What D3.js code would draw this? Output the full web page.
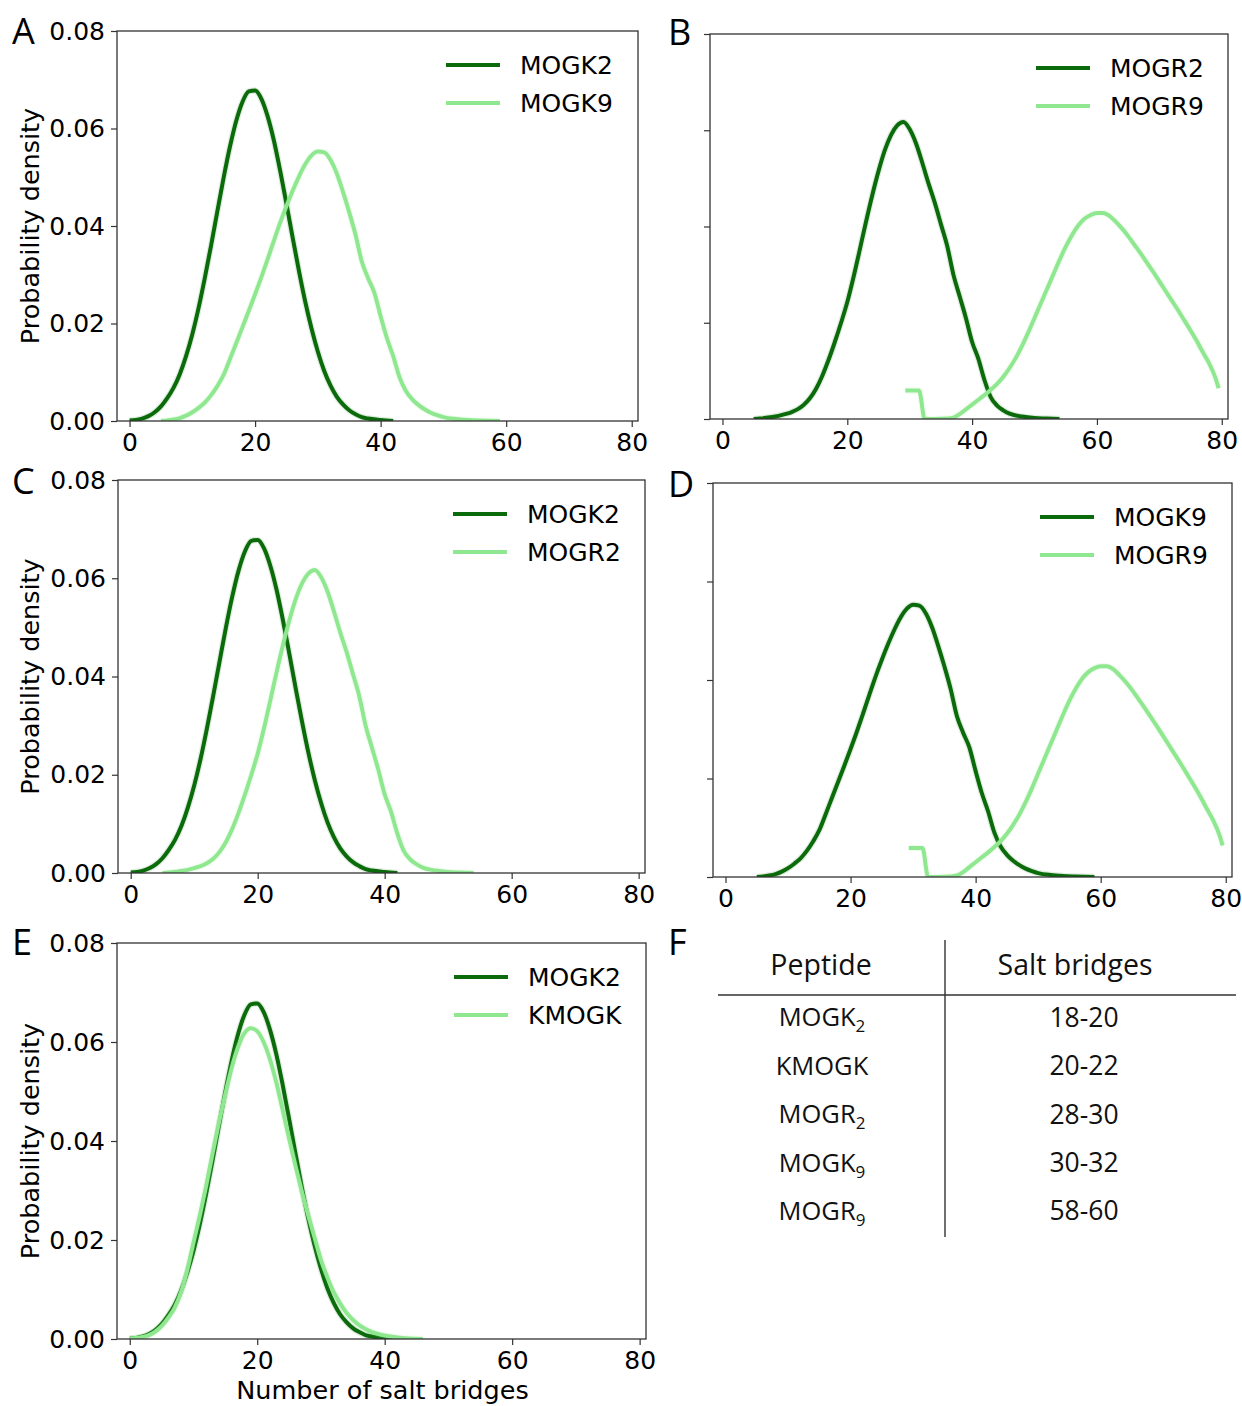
<!DOCTYPE html>
<html>
<head>
<meta charset="utf-8">
<script src="https://cdn.jsdelivr.net/npm/d3@7"></script>
<style>
  html, body { margin: 0; padding: 0; background: #ffffff; }
  svg { display: block; }
</style>
</head>
<body>
<svg id="chart" width="1242" height="1406"></svg>
<script>
// ---------------- DATA ----------------
const xTicks = [0, 20, 40, 60, 80];
const yTicks = [0, 0.02, 0.04, 0.06, 0.08];
const yTickLabels = ["0.00", "0.02", "0.04", "0.06", "0.08"];
const xAxisTitle = "Number of salt bridges";
const yAxisTitle = "Probability density";

// MOGK2
const mogk2X = [0,1,2,3,4,5,6,7,8,9,10,11,12,13,14,15,16,17,18,19,20,21,22,23,24,25,26,27,28,29,30,31,32,33,34,35,36,37,38,40,42];
const mogk2Y = [0.0001,0.0002,0.0005,0.0010,0.0018,0.0030,0.0047,0.0068,0.0096,0.0133,0.0178,0.0232,0.0294,0.0361,0.0431,0.0500,0.0563,0.0616,0.0655,0.0676,0.0678,0.0661,0.0625,0.0575,0.0513,0.0445,0.0375,0.0307,0.0244,0.0189,0.0142,0.0103,0.0073,0.0050,0.0034,0.0022,0.0014,0.0008,0.0005,0.0002,0.0000];

// MOGK9
const mogk9X = [5,6,7,8,9,10,11,12,13,14,15,16,17,18,19,20,21,22,23,24,25,26,27,28,29,30,31,32,33,34,35,36,37,38,39,40,41,42,43,44,45,46,47,48,49,50,52,54,56,59];
const mogk9Y = [0.0000,0.0001,0.0003,0.0006,0.0011,0.0018,0.0027,0.0038,0.0053,0.0072,0.0095,0.0127,0.0160,0.0193,0.0226,0.0260,0.0295,0.0332,0.0370,0.0407,0.0441,0.0473,0.0502,0.0527,0.0545,0.0553,0.0551,0.0536,0.0508,0.0470,0.0428,0.0382,0.0327,0.0293,0.0263,0.0215,0.0170,0.0133,0.0090,0.0062,0.0045,0.0033,0.0024,0.0017,0.0012,0.0008,0.0004,0.0002,0.0001,0.0000];

// MOGR2
const mogr2X = [5,6,8,10,11,12,13,14,15,16,17,18,19,20,21,22,23,24,25,26,27,28,29,30,31,32,33,34,35,36,37,38,39,40,41,42,43,44,45,46,48,50,52,54];
const mogr2Y = [0.0000,0.0001,0.0004,0.0010,0.0014,0.0020,0.0029,0.0043,0.0063,0.0090,0.0123,0.0160,0.0200,0.0243,0.0295,0.0352,0.0410,0.0465,0.0515,0.0558,0.0590,0.0610,0.0617,0.0602,0.0573,0.0533,0.0490,0.0450,0.0405,0.0360,0.0300,0.0255,0.0210,0.0160,0.0125,0.0080,0.0045,0.0028,0.0018,0.0011,0.0005,0.0002,0.0001,0.0000];

// MOGR9
const mogr9X = [29.3,31.5,32.4,34,36,37,38,39,40,41,42,43,44,45,46,47,48,49,50,51,52,53,54,55,56,57,58,59,60,61,62,63,64,65,66,67,68,69,70,71,72,73,74,75,76,77,78,79,79.5];
const mogr9Y = [0.0059,0.0059,0.0000,0.0000,0.0001,0.0003,0.0010,0.0020,0.0030,0.0040,0.0050,0.0061,0.0073,0.0088,0.0106,0.0127,0.0152,0.0180,0.0210,0.0240,0.0270,0.0300,0.0330,0.0358,0.0382,0.0402,0.0416,0.0424,0.0428,0.0428,0.0422,0.0410,0.0396,0.0380,0.0362,0.0344,0.0325,0.0306,0.0286,0.0266,0.0246,0.0226,0.0205,0.0184,0.0162,0.0138,0.0115,0.0085,0.0064];

// KMOGK
const kmogkX = [0,1,2,3,4,5,6,7,8,9,10,11,12,13,14,15,16,17,18,19,20,21,22,23,24,25,26,27,28,29,30,31,32,33,34,35,36,37,38,39,40,42,44,46];
const kmogkY = [0.0001,0.0002,0.0004,0.0008,0.0015,0.0026,0.0042,0.0062,0.0093,0.0138,0.0195,0.0250,0.0310,0.0375,0.0437,0.0495,0.0548,0.0590,0.0618,0.0628,0.0622,0.0600,0.0565,0.0518,0.0462,0.0405,0.0350,0.0298,0.0250,0.0205,0.0160,0.0125,0.0095,0.0072,0.0053,0.0039,0.0028,0.0020,0.0014,0.0010,0.0007,0.0003,0.0001,0.0000];

// Table (panel F)
const tableHeaders = ["Peptide", "Salt bridges"];
const peptideNames = ["MOGK", "KMOGK", "MOGR", "MOGK", "MOGR"];
const peptideSubs = ["2", "", "2", "9", "9"];
const saltBridgeRanges = ["18-20", "20-22", "28-30", "30-32", "58-60"];

// series lookup built from the arrays above
const seriesTable = {
  MOGK2: { x: mogk2X, y: mogk2Y },
  MOGK9: { x: mogk9X, y: mogk9Y },
  MOGR2: { x: mogr2X, y: mogr2Y },
  MOGR9: { x: mogr9X, y: mogr9Y },
  KMOGK: { x: kmogkX, y: kmogkY }
};

// ---------------- LAYOUT ----------------
const darkColor = "#0b6b0b";
const lightColor = "#8fe88f";
const tickFont = "'DejaVu Sans', sans-serif";
const xDomain = [-2, 81];
const yDomain = [0, 0.08];

const panels = [
  { letter: "A", l: 117, t: 31,  r: 638,  b: 421,  series: ["MOGK2", "MOGK9"], yLabels: true,  lx: 12,  ly: 44 },
  { letter: "B", l: 710, t: 34,  r: 1228, b: 419,  series: ["MOGR2", "MOGR9"], yLabels: false, lx: 668, ly: 45 },
  { letter: "C", l: 118, t: 480, r: 645,  b: 873,  series: ["MOGK2", "MOGR2"], yLabels: true,  lx: 12,  ly: 494 },
  { letter: "D", l: 713, t: 483, r: 1232, b: 877,  series: ["MOGK9", "MOGR9"], yLabels: false, lx: 668, ly: 497 },
  { letter: "E", l: 117, t: 943, r: 646,  b: 1339, series: ["MOGK2", "KMOGK"], yLabels: true,  lx: 12,  ly: 955, xTitle: true }
];

const svg = d3.select("#chart");
svg.append("rect").attr("width", 1242).attr("height", 1406).attr("fill", "#fff");

panels.forEach(p => {
  const x = d3.scaleLinear().domain(xDomain).range([p.l, p.r]);
  const y = d3.scaleLinear().domain(yDomain).range([p.b, p.t]);
  const g = svg.append("g");

  const clipId = "clip" + p.letter;
  svg.append("clipPath").attr("id", clipId)
    .append("rect").attr("x", p.l).attr("y", p.t).attr("width", p.r - p.l).attr("height", p.b - p.t);

  const line = d3.line()
    .x(d => x(d[0])).y(d => y(d[1]))
    .curve(d3.curveMonotoneX);

  const colors = [darkColor, lightColor];
  const plot = g.append("g").attr("clip-path", `url(#${clipId})`);
  p.series.forEach((name, i) => {
    const s = seriesTable[name];
    const pts = s.x.map((v, k) => [v, s.y[k]]);
    plot.append("path").datum(pts)
      .attr("d", line).attr("fill", "none")
      .attr("stroke", colors[i]).attr("stroke-width", 6.5)
      .attr("stroke-opacity", 0.12).attr("stroke-linejoin", "round");
    plot.append("path").datum(pts)
      .attr("d", line).attr("fill", "none")
      .attr("stroke", colors[i]).attr("stroke-width", 4)
      .attr("stroke-linejoin", "round").attr("stroke-linecap", "butt");
  });

  const xAxis = d3.axisBottom(x).tickValues(xTicks).tickSize(6).tickPadding(6).tickFormat(d3.format("d"));
  const yAxis = d3.axisLeft(y).tickValues(yTicks).tickSize(6).tickPadding(6)
    .tickFormat((d, i) => p.yLabels ? yTickLabels[i] : "");
  const gx = g.append("g").attr("transform", `translate(0,${p.b})`).call(xAxis);
  const gy = g.append("g").attr("transform", `translate(${p.l},0)`).call(yAxis);
  [gx, gy].forEach(ax => {
    ax.select(".domain").remove();
    ax.selectAll(".tick line").attr("stroke", "#333").attr("stroke-width", 1.2);
    ax.selectAll(".tick text").attr("fill", "#000").style("font-family", tickFont).style("font-size", "25px");
  });

  g.append("rect").attr("x", p.l).attr("y", p.t).attr("width", p.r - p.l).attr("height", p.b - p.t)
    .attr("fill", "none").attr("stroke", "#333").attr("stroke-width", 1.3);

  const lgX = p.r - 192, lgY = p.t + 34;
  p.series.forEach((name, i) => {
    const yy = lgY + i * 38;
    g.append("line").attr("x1", lgX).attr("x2", lgX + 54).attr("y1", yy).attr("y2", yy)
      .attr("stroke", colors[i]).attr("stroke-width", 4);
    g.append("text").attr("x", lgX + 74).attr("y", yy).attr("dy", "0.36em")
      .style("font-family", tickFont).style("font-size", "25px").attr("fill", "#000").text(name);
  });

  if (p.yLabels) {
    g.append("text")
      .attr("transform", `translate(30,${(p.t + p.b) / 2}) rotate(-90)`)
      .attr("text-anchor", "middle").attr("dy", "0.36em")
      .style("font-family", tickFont).style("font-size", "25.5px").attr("fill", "#000")
      .text(yAxisTitle);
  }
  if (p.xTitle) {
    g.append("text").attr("x", (p.l + p.r) / 2 + 1).attr("y", p.b + 51).attr("dy", "0.36em")
      .attr("text-anchor", "middle")
      .style("font-family", tickFont).style("font-size", "25.5px").attr("fill", "#000")
      .text(xAxisTitle);
  }

  svg.append("text").attr("x", p.lx).attr("y", p.ly)
    .style("font-family", "'Open Sans', sans-serif").style("font-size", "36px").attr("fill", "#000")
    .text(p.letter);
});

// ---------------- TABLE (F) ----------------
const tf = svg.append("g");
tf.append("text").attr("x", 668).attr("y", 955)
  .style("font-family", "'Open Sans', sans-serif").style("font-size", "36px").attr("fill", "#000").text("F");

const colCenters = [821, 1075];
const valCenters = [822, 1084];
const tableFont = "'Open Sans', sans-serif";
tableHeaders.forEach((h, i) => {
  tf.append("text").attr("x", colCenters[i]).attr("y", 965).attr("dy", "0.36em")
    .attr("text-anchor", "middle").style("font-family", tableFont).style("font-size", "28.5px")
    .style("font-weight", 500).attr("fill", "#111").text(h);
});
tf.append("line").attr("x1", 718).attr("x2", 1236).attr("y1", 995).attr("y2", 995)
  .attr("stroke", "#333").attr("stroke-width", 1.4);
tf.append("line").attr("x1", 945).attr("x2", 945).attr("y1", 940).attr("y2", 1237)
  .attr("stroke", "#333").attr("stroke-width", 1.4);

const rowY = d3.scaleBand().domain(d3.range(peptideNames.length)).range([993, 1235]);
peptideNames.forEach((name, i) => {
  const cy = rowY(i) + rowY.bandwidth() / 2;
  const t = tf.append("text").attr("x", valCenters[0]).attr("y", cy).attr("dy", "0.36em")
    .attr("text-anchor", "middle").style("font-family", tableFont).style("font-size", "25.5px")
    .style("font-weight", 500).attr("fill", "#111");
  t.append("tspan").text(name);
  if (peptideSubs[i]) {
    t.append("tspan").attr("dy", "6").style("font-size", "17px").text(peptideSubs[i]);
  }
  tf.append("text").attr("x", valCenters[1]).attr("y", cy).attr("dy", "0.36em")
    .attr("text-anchor", "middle").style("font-family", tableFont).style("font-size", "26.5px")
    .style("font-weight", 500).attr("fill", "#111")
    .text(saltBridgeRanges[i]);
});
</script>
</body>
</html>
